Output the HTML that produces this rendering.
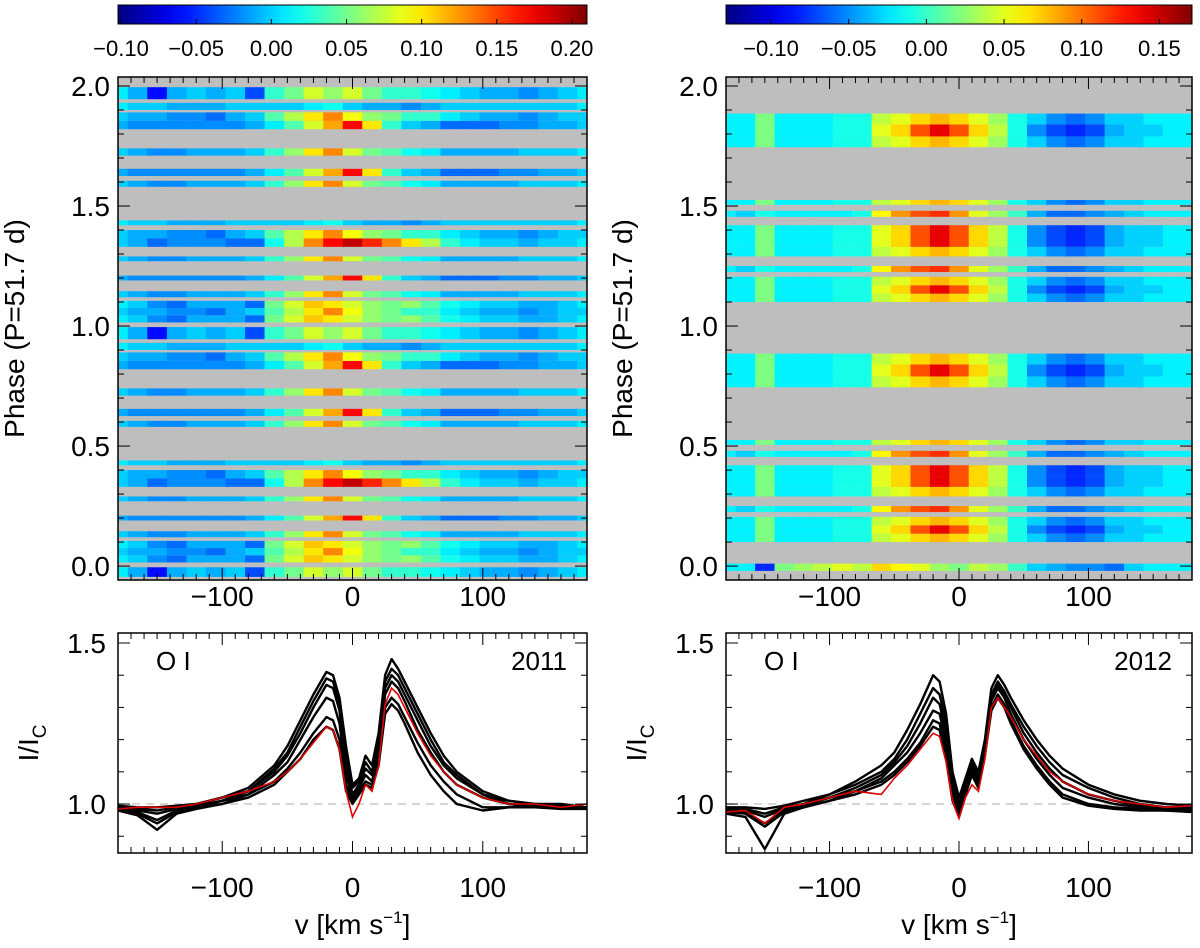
<!DOCTYPE html>
<html><head><meta charset="utf-8">
<style>
body{margin:0;background:#fff;}
svg{display:block;font-family:"Liberation Sans",sans-serif;}
</style></head>
<body>
<svg id="fig" width="1200" height="948" viewBox="0 0 1200 948"></svg>
<script>
// ---------- data ----------
const hmVel = [-180,-165,-150,-135,-120,-105,-90,-75,-60,-45,-30,-15,0,15,30,45,60,75,90,105,120,135,150,165,180];
const LA = [0.0,-0.01,-0.03,-0.02,-0.02,-0.02,-0.03,-0.03,0.02,0.07,0.13,0.17,0.19,0.16,0.13,0.10,0.07,0.03,0.01,0.0,0.0,-0.01,0.0,0.0,0.01];
const LB = [0.01,0.0,-0.02,-0.03,-0.01,-0.01,-0.01,-0.03,0.05,0.08,0.11,0.10,0.08,0.06,0.05,0.06,0.04,0.02,0.01,0.0,0.0,-0.01,-0.01,0.0,0.01];
const LB2 = [0.0,-0.01,-0.01,-0.02,-0.02,-0.03,-0.01,0.0,0.04,0.07,0.10,0.13,0.09,0.06,0.05,0.03,0.03,0.01,0.0,-0.01,-0.01,-0.02,-0.01,0.0,0.0];
const LC = [-0.01,-0.02,-0.02,-0.02,-0.02,-0.02,-0.02,-0.01,0.01,0.04,0.08,0.12,0.17,0.10,0.03,0.0,-0.01,-0.03,-0.03,-0.03,-0.02,-0.02,-0.01,-0.01,0.0];
const LD = [0.01,0.0,0.0,-0.01,-0.01,-0.01,0.0,0.0,0.0,0.0,0.01,0.02,0.0,-0.01,-0.01,-0.02,-0.01,0.0,0.0,0.0,0.0,0.0,0.0,0.0,0.01];
const LE = [0.01,-0.01,-0.06,-0.01,0.0,-0.01,0.0,-0.04,0.03,0.05,0.08,0.06,0.08,0.05,0.03,0.03,0.02,0.01,0.0,-0.01,-0.01,-0.02,-0.01,0.0,0.01];
const LF = [0.0,-0.01,-0.02,-0.02,-0.01,-0.01,-0.01,0.0,0.03,0.06,0.10,0.13,0.08,0.05,0.04,0.02,0.01,-0.01,-0.01,-0.01,-0.01,0.0,0.0,0.0,0.01];
const RA = [-0.02,-0.02,0.02,-0.02,-0.02,-0.02,-0.01,-0.01,0.05,0.07,0.11,0.14,0.11,0.07,0.04,-0.01,-0.05,-0.07,-0.08,-0.07,-0.04,-0.03,-0.03,-0.02,-0.02];
const RB = [-0.02,-0.02,0.02,-0.02,-0.02,-0.02,-0.01,-0.01,0.04,0.05,0.07,0.08,0.07,0.05,0.03,-0.01,-0.03,-0.05,-0.06,-0.05,-0.03,-0.03,-0.02,-0.02,-0.02];
const RC = [-0.02,-0.03,-0.01,-0.02,-0.02,-0.02,-0.02,-0.01,0.06,0.09,0.11,0.12,0.09,0.05,0.03,0.0,-0.04,-0.06,-0.06,-0.05,-0.04,-0.03,-0.02,-0.02,-0.02];
const R0 = [-0.02,-0.02,-0.08,0.02,0.03,0.04,0.05,0.04,0.07,0.06,0.05,0.03,0.02,0.04,0.03,0.0,-0.03,-0.04,-0.05,-0.05,-0.06,-0.03,-0.02,-0.02,-0.02];
// rows: [phaseStart, phaseEnd, profile] drawn at phase and phase+1
const leftRows = [[-0.045,-0.005,LE],[0.015,0.045,LB],[0.045,0.075,LB2],[0.075,0.105,LB],[0.12,0.145,LF],[0.19,0.21,LC],[0.27,0.29,LF],[0.33,0.365,LA],[0.365,0.40,LB2],[0.42,0.44,LD],[0.58,0.605,LF],[0.625,0.655,LC],[0.71,0.74,LF],[0.82,0.855,LC],[0.855,0.89,LB2],[0.90,0.93,LD],[0.945,0.995,LE]];
const rightRows = [[0.10,0.135,RB],[0.135,0.17,RA],[0.17,0.205,RB],[0.225,0.25,RC],[0.29,0.33,RB],[0.33,0.375,RA],[0.375,0.42,RA],[0.455,0.48,RC],[0.505,0.525,RB],[0.745,0.79,RB],[0.79,0.84,RA],[0.84,0.885,RB]];
const rightRowsOnce = [[-0.02,0.01,R0]];

const spVel = [-180,-165,-150,-135,-120,-100,-80,-60,-50,-40,-30,-20,-15,-10,-5,0,5,10,15,20,25,30,35,40,50,60,70,80,100,120,140,160,180];
const L1 = [0.995,0.99,0.99,0.995,1.0,1.02,1.05,1.12,1.18,1.26,1.34,1.41,1.40,1.33,1.18,1.06,1.08,1.15,1.12,1.22,1.40,1.45,1.42,1.38,1.30,1.22,1.15,1.10,1.04,1.01,1.0,1.0,0.99];
const L2 = [0.99,0.985,0.98,0.99,1.0,1.02,1.04,1.11,1.16,1.24,1.32,1.39,1.38,1.31,1.15,1.05,1.07,1.13,1.10,1.20,1.38,1.42,1.40,1.36,1.28,1.20,1.13,1.09,1.03,1.01,1.0,0.995,0.99];
const L3 = [0.99,0.98,0.97,0.985,0.995,1.01,1.04,1.10,1.15,1.22,1.30,1.37,1.36,1.29,1.12,1.03,1.06,1.11,1.09,1.18,1.36,1.40,1.38,1.34,1.26,1.18,1.12,1.08,1.03,1.0,0.995,0.99,0.99];
const L4 = [0.985,0.975,0.95,0.98,0.99,1.01,1.03,1.09,1.13,1.20,1.27,1.33,1.32,1.25,1.09,1.02,1.05,1.09,1.07,1.16,1.34,1.38,1.36,1.32,1.23,1.16,1.10,1.06,1.02,1.0,0.99,0.99,0.985];
const L5 = [0.98,0.97,0.94,0.975,0.99,1.0,1.03,1.07,1.11,1.16,1.22,1.27,1.26,1.20,1.06,1.01,1.04,1.07,1.06,1.14,1.30,1.33,1.31,1.27,1.19,1.12,1.07,1.03,0.99,0.99,0.99,0.99,0.985];
const L6 = [0.98,0.965,0.92,0.97,0.985,1.0,1.02,1.06,1.10,1.14,1.20,1.24,1.23,1.17,1.04,1.0,1.03,1.06,1.05,1.12,1.28,1.31,1.29,1.25,1.16,1.09,1.04,1.0,0.98,0.99,0.99,0.985,0.985];
const LRed = [0.985,0.99,0.99,0.99,1.0,1.02,1.04,1.07,1.10,1.14,1.19,1.24,1.23,1.17,1.04,0.96,1.0,1.06,1.04,1.12,1.31,1.36,1.34,1.30,1.22,1.15,1.10,1.06,1.02,1.0,1.0,0.99,1.0];
const R1 = [0.99,0.99,0.985,0.995,1.01,1.03,1.07,1.12,1.16,1.23,1.31,1.40,1.38,1.28,1.10,1.02,1.08,1.14,1.10,1.20,1.36,1.40,1.37,1.33,1.26,1.20,1.15,1.11,1.06,1.03,1.01,1.0,0.995];
const R2 = [0.985,0.985,0.97,0.99,1.0,1.03,1.06,1.10,1.14,1.20,1.28,1.36,1.34,1.25,1.08,1.0,1.07,1.13,1.09,1.19,1.34,1.38,1.35,1.31,1.24,1.18,1.13,1.09,1.05,1.02,1.0,0.99,0.99];
const R3 = [0.98,0.98,0.96,0.985,1.0,1.02,1.05,1.09,1.13,1.18,1.25,1.33,1.31,1.22,1.06,0.99,1.06,1.12,1.08,1.18,1.33,1.37,1.34,1.30,1.22,1.16,1.11,1.07,1.03,1.01,0.995,0.99,0.985];
const R4 = [0.98,0.975,0.94,0.98,0.995,1.02,1.04,1.08,1.12,1.16,1.22,1.29,1.28,1.19,1.04,0.98,1.05,1.11,1.07,1.17,1.32,1.36,1.33,1.28,1.20,1.14,1.09,1.05,1.02,1.0,0.99,0.985,0.98];
const R5 = [0.975,0.97,0.93,0.975,0.99,1.01,1.04,1.07,1.10,1.14,1.19,1.26,1.25,1.16,1.02,0.97,1.04,1.10,1.06,1.16,1.30,1.34,1.31,1.26,1.18,1.12,1.07,1.03,1.0,0.99,0.985,0.98,0.98];
const R6 = [0.97,0.96,0.86,0.97,0.99,1.01,1.03,1.06,1.09,1.13,1.18,1.24,1.23,1.14,1.01,0.96,1.03,1.09,1.05,1.15,1.29,1.33,1.30,1.25,1.17,1.11,1.06,1.02,0.995,0.985,0.98,0.98,0.975];
const RRed = [0.975,0.98,0.94,0.99,1.0,1.02,1.04,1.03,1.08,1.12,1.17,1.22,1.21,1.13,1.01,0.955,1.02,1.06,1.04,1.14,1.30,1.33,1.30,1.27,1.20,1.15,1.10,1.07,1.03,1.01,1.0,0.99,0.995];

const cbTicksL = [-0.10,-0.05,0.00,0.05,0.10,0.15,0.20];
const cbTicksR = [-0.10,-0.05,0.00,0.05,0.10,0.15];
const phaseTicks = [0.0,0.5,1.0,1.5,2.0];
const velTicks = [-100,0,100];
const intTicks = [1.0,1.5];

// ---------- helpers ----------
const NS='http://www.w3.org/2000/svg';
const svg=document.getElementById('fig');
function mk(tag,attrs,parent){const e=document.createElementNS(NS,tag);for(const k in attrs)e.setAttribute(k,attrs[k]);(parent||svg).appendChild(e);return e;}
function jet(t){t=Math.max(0,Math.min(1,t));
  const r=Math.max(0,Math.min(1,1.5-Math.abs(4*t-3)));
  const g=Math.max(0,Math.min(1,1.5-Math.abs(4*t-2)));
  const b=Math.max(0,Math.min(1,1.5-Math.abs(4*t-1)));
  return `rgb(${Math.round(r*255)},${Math.round(g*255)},${Math.round(b*255)})`;}
function fmt(v){const s=Math.abs(v).toFixed(2);return (v<-1e-9?'\u2212':'')+s;}

function panel(cfg){
  const {id,x0,x1,cmin,cmax,rows,rowsOnce,curves,red,cbTicks,year}=cfg;
  const hy0=77,hy1=580,pMin=-0.058,pMax=2.0375;
  const by0=633,by1=853,iMin=0.848,iMax=1.531;
  const xS=v=>x0+(v+180)/360*(x1-x0);
  const yP=p=>hy1-(p-pMin)/(pMax-pMin)*(hy1-hy0);
  const yI=i=>by1-(i-iMin)/(iMax-iMin)*(by1-by0);
  const cS=v=>(v-cmin)/(cmax-cmin);
  const g=mk('g',{});
  
  
  // colorbar
  const gid='cbg-'+id;
  const defs=mk('defs',{},g);
  const lg=mk('linearGradient',{id:gid,x1:0,x2:1,y1:0,y2:0},defs);
  for(let k=0;k<=20;k++){mk('stop',{offset:k/20,'stop-color':jet(k/20)},lg);}
  const cb=mk('rect',{x:x0,y:5,width:x1-x0,height:19,fill:`url(#${gid})`,stroke:'#000','stroke-width':1},g);
  
  
  cbTicks.forEach(t=>{
    const x=x0+cS(t)*(x1-x0);
    mk('line',{x1:x,x2:x,y1:24,y2:19,stroke:'#000'},g);
    const tx=mk('text',{x:x,y:56,'font-size':22,'text-anchor':'middle'},g);
    tx.textContent=fmt(t);
    
    
  });
  // heatmap
  const cp='clip-'+id;
  const c=mk('clipPath',{id:cp},defs);
  mk('rect',{x:x0,y:hy0,width:x1-x0,height:hy1-hy0},c);
  const bg=mk('rect',{x:x0,y:hy0,width:x1-x0,height:hy1-hy0,fill:'#bebebe'},g);
  
  
  const hm=mk('g',{'clip-path':`url(#${cp})`},g);
  
  
  function drawRow(p0,p1,prof){
    const ya=yP(p1),yb=yP(p0);
    hmVel.forEach((v,i)=>{
      const xa=xS(v-7.5),xb=xS(v+7.5);
      const r=mk('rect',{x:xa,y:ya,width:xb-xa+0.6,height:yb-ya,fill:jet(cS(prof[i]))},hm);
      
      
    });
  }
  [0,1].forEach(off=>rows.forEach(r=>drawRow(r[0]+off,r[1]+off,r[2])));
  rowsOnce.forEach(r=>drawRow(r[0],r[1],r[2]));
  mk('rect',{x:x0,y:hy0,width:x1-x0,height:hy1-hy0,fill:'none',stroke:'#000','stroke-width':1.5},g);
  // heatmap ticks
  for(let v=-180;v<=180;v+=10){const x=xS(v);const L=(v%100===0)?12:6;
    mk('line',{x1:x,x2:x,y1:hy1,y2:hy1-L,stroke:'#000'},g);mk('line',{x1:x,x2:x,y1:hy0,y2:hy0+L,stroke:'#000'},g);}
  for(let k=0;k<=20;k++){const p=k/10,y=yP(p),L=(k%5===0)?12:6;
    mk('line',{x1:x0,x2:x0+L,y1:y,y2:y,stroke:'#000'},g);mk('line',{x1:x1,x2:x1-L,y1:y,y2:y,stroke:'#000'},g);}
  phaseTicks.forEach(p=>{const t=mk('text',{x:x0-8,y:yP(p)+10,'font-size':28,'text-anchor':'end'},g);t.textContent=p.toFixed(1);
    
    });
  velTicks.forEach(v=>{const t=mk('text',{x:xS(v),y:606,'font-size':28,'text-anchor':'middle'},g);t.textContent=(v<0?'\u2212':'')+Math.abs(v);
    
    });
  const yt=mk('text',{transform:`translate(${x0-94},${(hy0+hy1)/2}) rotate(-90)`,'font-size':28,'text-anchor':'middle'},g);
  yt.textContent='Phase (P=51.7 d)';
  
  
  // line plot
  const lp=mk('g',{},g);
  
  
  const dl=mk('line',{x1:x0,x2:x1,y1:yI(1),y2:yI(1),stroke:'#c8c8c8','stroke-width':1.5,'stroke-dasharray':'8,6'},lp);
  
  
  const pts=arr=>arr.map((v,i)=>`${xS(spVel[i]).toFixed(1)},${yI(v).toFixed(1)}`).join(' ');
  curves.forEach(cv=>{const pl=mk('polyline',{points:pts(cv),fill:'none',stroke:'#000','stroke-width':2.4,'stroke-linejoin':'round'},lp);
    
    });
  const rl=mk('polyline',{points:pts(red),fill:'none',stroke:'#e00000','stroke-width':1.6},lp);
  
  
  mk('rect',{x:x0,y:by0,width:x1-x0,height:by1-by0,fill:'none',stroke:'#000','stroke-width':1.5},lp);
  for(let v=-180;v<=180;v+=10){const x=xS(v);const L=(v%100===0)?12:6;
    mk('line',{x1:x,x2:x,y1:by1,y2:by1-L,stroke:'#000'},lp);mk('line',{x1:x,x2:x,y1:by0,y2:by0+L,stroke:'#000'},lp);}
  for(let k=9;k<=15;k++){const y=yI(k/10),L=(k%5===0)?12:6;
    mk('line',{x1:x0,x2:x0+L,y1:y,y2:y,stroke:'#000'},lp);mk('line',{x1:x1,x2:x1-L,y1:y,y2:y,stroke:'#000'},lp);}
  intTicks.forEach(v=>{const t=mk('text',{x:x0-12,y:yI(v)+10,'font-size':28,'text-anchor':'end'},lp);t.textContent=v.toFixed(1);
    
    });
  velTicks.forEach(v=>{const t=mk('text',{x:xS(v),y:897,'font-size':28,'text-anchor':'middle'},lp);t.textContent=(v<0?'\u2212':'')+Math.abs(v);
    
    });
  const xt=mk('text',{x:(x0+x1)/2,y:934,'font-size':28,'text-anchor':'middle'},lp);
  xt.innerHTML='v [km s<tspan dy="-11" font-size="17">\u22121</tspan><tspan dy="11">]</tspan>';
  
  
  const it=mk('text',{transform:`translate(${x0-80},${(by0+by1)/2}) rotate(-90)`,'font-size':28,'text-anchor':'middle'},lp);
  it.innerHTML='I/I<tspan dy="8" font-size="19">C</tspan>';
  
  
  const o=mk('text',{x:x0+38,y:by0+37,'font-size':26},lp);o.textContent='O I';
  
  
  const yr=mk('text',{x:x1-20,y:by0+37,'font-size':26,'text-anchor':'end'},lp);yr.textContent=year;
  
  
}
panel({id:'left-2011',x0:118,x1:587,cmin:-0.102,cmax:0.21,rows:leftRows,rowsOnce:[],curves:[L1,L2,L3,L4,L5,L6],red:LRed,cbTicks:cbTicksL,year:'2011'});
panel({id:'right-2012',x0:726,x1:1192,cmin:-0.129,cmax:0.171,rows:rightRows,rowsOnce:rightRowsOnce,curves:[R1,R2,R3,R4,R5,R6],red:RRed,cbTicks:cbTicksR,year:'2012'});
</script>
</body></html>
